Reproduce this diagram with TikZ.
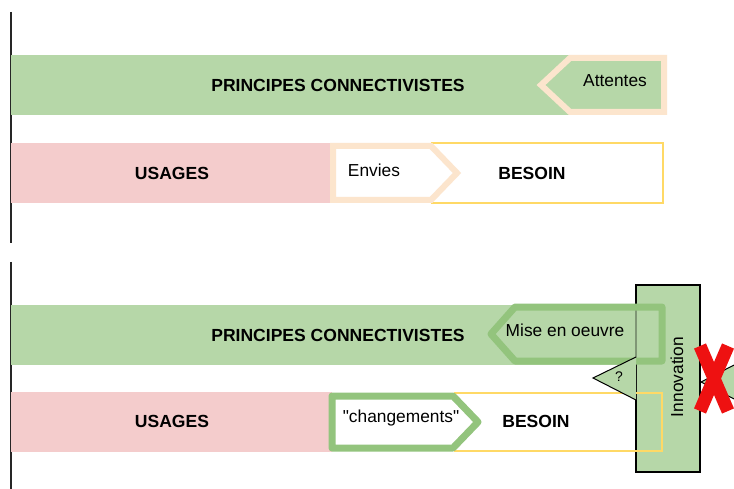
\documentclass[tikz,border=0pt]{standalone}
\usepackage{fontspec}
\setmainfont{Liberation Sans}[Ligatures=TeXOff]
\definecolor{bandgreen}{HTML}{B6D7A8}
\definecolor{bandpink}{HTML}{F4CCCC}
\definecolor{peach}{HTML}{FCE5CD}
\definecolor{besoinyellow}{HTML}{FFD966}
\definecolor{midgreen}{HTML}{93C47D}
\definecolor{crossred}{HTML}{EE1111}
\tikzset{
	boldtext/.style={font=\bfseries\fontsize{17.6}{20}\selectfont, inner sep=0pt},
	plaintext/.style={font=\fontsize{17.4}{20}\selectfont, inner sep=0pt},
	axisline/.style={line width=1.5bp, black!85},
	peacharrow/.style={draw=peach, line width=6bp},
	greenarrow/.style={draw=midgreen, line width=7bp, line join=round},
	besoinbox/.style={draw=besoinyellow, line width=2.5bp},
	pointer/.style={fill=bandgreen, draw=black, line width=1bp},
}
\begin{document}
\begin{tikzpicture}[x=1bp, y=-1bp]
	\useasboundingbox[fill=white] (0,0) rectangle (734,489);
	% haut
	\draw[axisline] (11,12) -- (11,243);
	\fill[bandgreen] (11,55) rectangle (665,115);
	\fill[bandpink] (11,143) rectangle (332,203);
	\draw[besoinbox] (432,143) rectangle (663,203);
	\filldraw[fill=bandgreen, peacharrow] (664,58) -- (570,58) -- (541,85) -- (570,112) -- (664,112) -- cycle;
	\filldraw[fill=white, peacharrow] (333,146) -- (431,146) -- (457,173) -- (431,200) -- (333,200) -- cycle;
	\node[boldtext] (principes1) at (338,85) {PRINCIPES CONNECTIVISTES};
	\node[boldtext] (usages1) at (172,173) {USAGES};
	\node[boldtext] (besoin1) at (532,173) {BESOIN};
	\node[plaintext] (attentes) at (615,81) {Attentes};
	\node[plaintext] (envies) at (374,170) {Envies};
	% bas
	\draw[axisline] (11,262) -- (11,489);
	\fill[bandgreen] (11,305) rectangle (665,365);
	\fill[bandpink] (11,392) rectangle (332,452);
	\filldraw[fill=bandgreen, draw=black, line width=1.5bp] (636,285) rectangle (700,472);
	\draw[besoinbox] (455,393) rectangle (662,451);
	\filldraw[fill=bandgreen, fill opacity=0.7, greenarrow] (662,307) -- (515,307) -- (491,334) -- (515,361) -- (662,361) -- cycle;
	\filldraw[fill=white, greenarrow] (332,396) -- (453,396) -- (478,422) -- (453,448) -- (332,448) -- cycle;
	\filldraw[pointer] (636,357) -- (593,378) -- (636,400);
	\filldraw[pointer] (740,362) -- (701,382) -- (740,402);
	\draw[crossred, line width=13bp] (700,346) -- (728,411);
	\draw[crossred, line width=13bp] (728,346) -- (700,411);
	\node[boldtext] (principes2) at (338,335) {PRINCIPES CONNECTIVISTES};
	\node[boldtext] (usages2) at (172,421) {USAGES};
	\node[boldtext] (besoin2) at (536,421) {BESOIN};
	\node[plaintext] (miseenoeuvre) at (565,330) {Mise en oeuvre};
	\node[plaintext] (changements) at (401,418) {"changements"};
	\node[plaintext, font=\fontsize{14}{16}\selectfont] (question) at (619,377) {?};
	\node[plaintext, rotate=90] (innovation) at (677,377) {Innovation};
\end{tikzpicture}
\end{document}
